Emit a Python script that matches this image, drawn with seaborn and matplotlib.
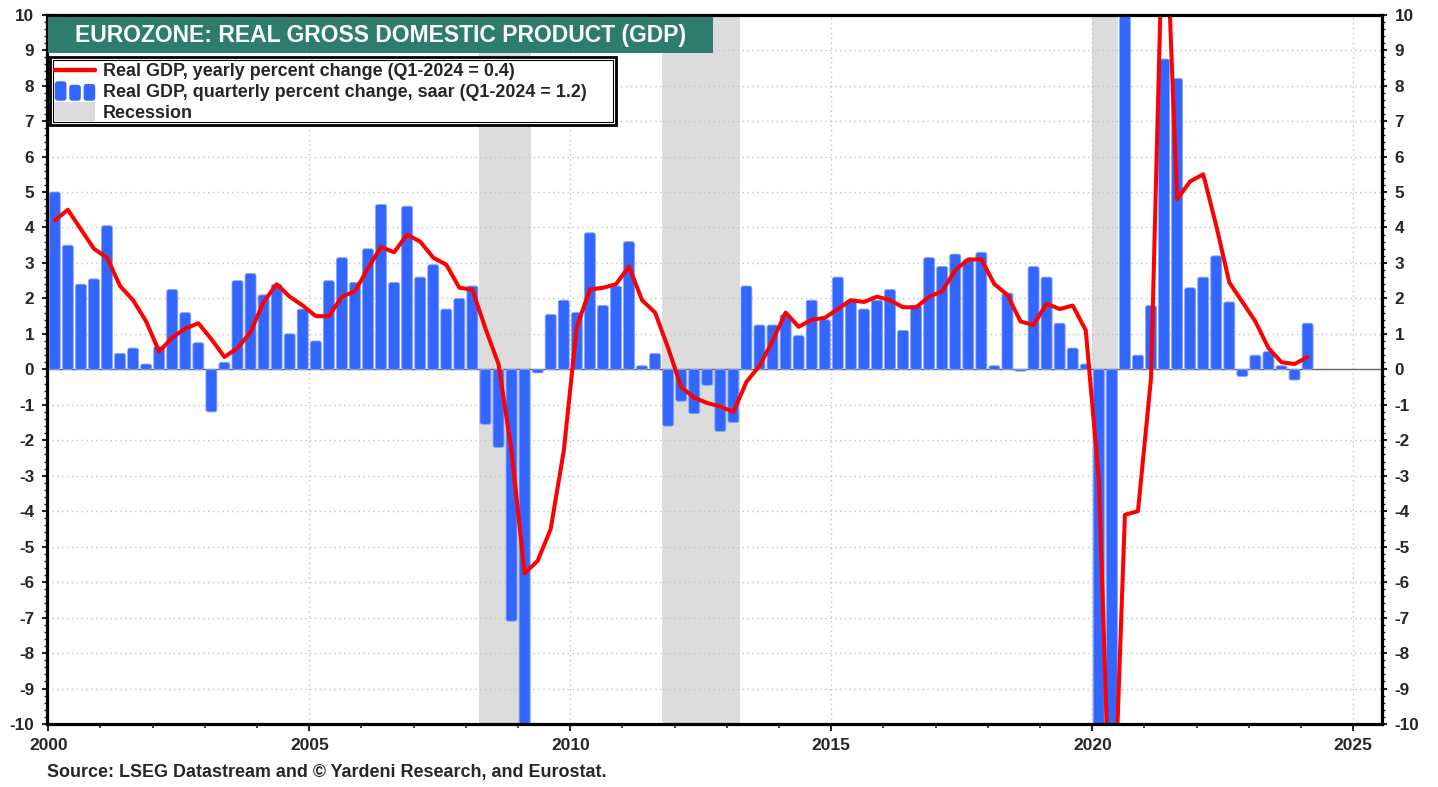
import numpy as np
import pandas as pd
import matplotlib
matplotlib.use("Agg")
import matplotlib.pyplot as plt
import seaborn as sns
from matplotlib.patches import Rectangle, Patch, FancyBboxPatch
from matplotlib.lines import Line2D
from matplotlib.legend_handler import HandlerBase
from matplotlib.ticker import MultipleLocator, AutoMinorLocator

# ---------------- data ----------------
quarters = pd.period_range("2000Q1", "2024Q1", freq="Q")

qoq_saar = [
    5.0, 3.5, 2.4, 2.55,        # 2000
    4.05, 0.45, 0.6, 0.15,      # 2001
    0.65, 2.25, 1.6, 0.75,      # 2002
    -1.2, 0.2, 2.5, 2.7,        # 2003
    2.1, 2.4, 1.0, 1.7,         # 2004
    0.8, 2.5, 3.15, 2.45,       # 2005
    3.4, 4.65, 2.45, 4.6,       # 2006
    2.6, 2.95, 1.7, 2.0,        # 2007
    2.35, -1.55, -2.2, -7.1,    # 2008
    -11.5, -0.1, 1.55, 1.95,    # 2009
    1.6, 3.85, 1.8, 2.35,       # 2010
    3.6, 0.1, 0.45, -1.6,       # 2011
    -0.9, -1.25, -0.45, -1.75,  # 2012
    -1.5, 2.35, 1.25, 1.25,     # 2013
    1.55, 0.95, 1.95, 1.4,      # 2014
    2.6, 1.95, 1.7, 1.95,       # 2015
    2.25, 1.1, 1.8, 3.15,       # 2016
    2.9, 3.25, 3.1, 3.3,        # 2017
    0.1, 2.15, -0.05, 2.9,      # 2018
    2.6, 1.3, 0.6, 0.15,        # 2019
    -14.0, -38.0, 60.0, 0.4,    # 2020
    1.8, 8.75, 8.2, 2.3,        # 2021
    2.6, 3.2, 1.9, -0.2,        # 2022
    0.4, 0.5, 0.1, -0.3,        # 2023
    1.3,                        # 2024
]

yoy = [
    4.2, 4.5, 3.95, 3.4,        # 2000
    3.15, 2.35, 1.95, 1.35,     # 2001
    0.5, 0.9, 1.15, 1.3,        # 2002
    0.85, 0.35, 0.6, 1.05,      # 2003
    1.9, 2.4, 2.05, 1.8,        # 2004
    1.5, 1.5, 2.05, 2.2,        # 2005
    2.85, 3.45, 3.3, 3.8,       # 2006
    3.6, 3.15, 2.95, 2.3,       # 2007
    2.25, 1.15, 0.15, -2.3,     # 2008
    -5.75, -5.4, -4.5, -2.3,    # 2009
    1.2, 2.25, 2.3, 2.4,        # 2010
    2.9, 1.95, 1.6, 0.6,        # 2011
    -0.5, -0.8, -0.95, -1.05,   # 2012
    -1.2, -0.35, 0.1, 0.8,      # 2013
    1.6, 1.2, 1.4, 1.45,        # 2014
    1.7, 1.95, 1.9, 2.05,       # 2015
    1.95, 1.75, 1.75, 2.05,     # 2016
    2.2, 2.8, 3.1, 3.1,         # 2017
    2.4, 2.1, 1.35, 1.25,       # 2018
    1.85, 1.7, 1.8, 1.1,        # 2019
    -3.1, -14.5, -4.1, -4.0,    # 2020
    -0.25, 14.2, 4.8, 5.3,      # 2021
    5.5, 4.05, 2.45, 1.9,       # 2022
    1.35, 0.6, 0.2, 0.15,       # 2023
    0.35,                       # 2024
]

recession_start = [2008.25, 2011.75, 2020.0]
recession_end = [2009.25, 2013.25, 2020.5]

year_ticks = [2000, 2005, 2010, 2015, 2020, 2025]
title_text = "EUROZONE: REAL GROSS DOMESTIC PRODUCT (GDP)"
legend_labels = [
    "Real GDP, yearly percent change (Q1-2024 = 0.4)",
    "Real GDP, quarterly percent change, saar (Q1-2024 = 1.2)",
    "Recession",
]
source_text = "Source: LSEG Datastream and \u00a9 Yardeni Research, and Eurostat."

# quarter mid-points as decimal years
qx = np.array([p.year + (p.quarter - 1) * 0.25 + 0.125 for p in quarters])
df = pd.DataFrame({"x": qx, "qoq": qoq_saar, "yoy": yoy})

BLUE = "#3366FF"
EDGE = "#8AA5FF"
RED = "#FF0000"
GRAY = "#DCDCDC"
TEAL = "#2E7C6D"

# ---------------- style ----------------
sns.set_style("white")
plt.rcParams["font.family"] = ["Liberation Sans", "DejaVu Sans"]
plt.rcParams["font.weight"] = "bold"

W, H, DPI = 1438, 787, 100
fig = plt.figure(figsize=(W / DPI, H / DPI), dpi=DPI)
ax = fig.add_axes([46.7 / W, 1 - 724 / H, (1382 - 46.7) / W, (724 - 14.7) / H])

# bars
sns.barplot(data=df, x="x", y="qoq", native_scale=True, width=0.84,
            color=BLUE, saturation=1, errorbar=None, ax=ax, zorder=2,
            edgecolor=EDGE, linewidth=0.6)

# round bar corners
px_x = 52.2   # px per year
px_y = 35.46  # px per unit
aspect = (1 / px_y) / (1 / px_x)
for p in list(ax.patches):
    if not isinstance(p, Rectangle):
        continue
    x0, y0, w, h = p.get_x(), p.get_y(), p.get_width(), p.get_height()
    if h < 0:
        y0, h = y0 + h, -h
    r = 2.2 / px_x
    r = min(r, w / 2, (h / 2) / aspect if h > 0 else r)
    fb = FancyBboxPatch((x0, y0), w, h,
                        boxstyle=f"round,pad=0,rounding_size={r}",
                        mutation_aspect=aspect,
                        fc=BLUE, ec=EDGE, lw=0.6, zorder=2)
    p.remove()
    ax.add_patch(fb)

# recession shading
for s, e in zip(recession_start, recession_end):
    ax.axvspan(s, e, color=GRAY, lw=0, zorder=0)

# grid
for yv in range(-10, 11):
    ax.axhline(yv, color="#C4C4C4", lw=1.0, ls=(0, (1, 2.5)), zorder=0.5)
for xv in year_ticks[1:]:
    ax.axvline(xv, color="#C4C4C4", lw=1.0, ls=(0, (1, 2.5)), zorder=0.5)
ax.axhline(0, color="#666666", lw=1.0, zorder=0.8)

# line
sns.lineplot(data=df, x="x", y="yoy", color=RED, lw=2.9, ax=ax,
             sort=False, estimator=None, zorder=3)

# axes limits/ticks
ax.set_xlim(1999.97, 2025.55)
ax.set_ylim(-10, 10)
ax.set_xlabel("")
ax.set_ylabel("")
ax.xaxis.set_minor_locator(MultipleLocator(1))
ax.set_xticks(year_ticks)
ax.set_xticklabels([str(y) for y in year_ticks])
ax.yaxis.set_minor_locator(AutoMinorLocator(5))
ax.set_yticks(range(-10, 11))
ax.set_yticklabels([str(v) for v in range(-10, 11)])
ax.grid(False)

ax.tick_params(axis="x", which="major", direction="out", length=5, width=1.5,
               pad=5, labelsize=12.5, bottom=True, top=False)
ax.tick_params(axis="x", which="minor", direction="out", length=3, width=1.2,
               bottom=True, top=False)
ax.tick_params(axis="y", which="major", direction="out", length=3.5, width=1.5,
               pad=5.5, labelsize=12.3, left=True, right=True, labelleft=True,
               labelright=True)
ax.tick_params(axis="y", which="minor", direction="out", length=2.0, width=1.0,
               left=True, right=True)
for lab in ax.get_xticklabels() + ax.get_yticklabels():
    lab.set_fontweight("bold")
for side in ["left", "right", "top", "bottom"]:
    ax.spines[side].set_visible(True)
    ax.spines[side].set_linewidth(2.3)
    ax.spines[side].set_color("black")
    ax.spines[side].set_zorder(5)

# title box
fig.patches.append(Rectangle((48 / W, 1 - 53 / H), 665 / W, 36 / H,
                             transform=fig.transFigure, fc=TEAL, ec="none",
                             zorder=10))
fig.text(381 / W, 1 - 35.5 / H, title_text, color="white", fontsize=16.5,
         fontweight="bold", ha="center", va="center", zorder=11)

# legend frame (double border)
fig.patches.append(Rectangle((49.5 / W, 1 - 125 / H), 566 / W, 68 / H,
                             transform=fig.transFigure, fc="white",
                             ec="black", lw=2.0, zorder=11))
fig.patches.append(Rectangle((52.5 / W, 1 - 122 / H), 560 / W, 62 / H,
                             transform=fig.transFigure, fc="none",
                             ec="black", lw=0.8, zorder=11))


class RectHandler(HandlerBase):
    def __init__(self, kind):
        super().__init__()
        self.kind = kind

    def create_artists(self, legend, orig_handle, xdescent, ydescent, width,
                       height, fontsize, trans):
        arts = []
        if self.kind == "bars":
            gap = width * 0.07
            bw = (width - 2 * gap) / 3
            base = -ydescent - height * 0.3
            for i, f in enumerate([1.0, 0.82, 0.86]):
                r = FancyBboxPatch((-xdescent + i * (bw + gap), base), bw,
                                   height * 1.55 * f,
                                   boxstyle="round,pad=0,rounding_size=2",
                                   fc=BLUE, ec="none", transform=trans)
                arts.append(r)
        else:
            r = Rectangle((-xdescent, -ydescent - height * 0.25), width,
                          height * 1.5, fc=GRAY, ec="none", transform=trans)
            arts.append(r)
        return arts


h_line = Line2D([], [], color=RED, lw=3.2)
h_bars = Patch(color=BLUE)
h_rec = Patch(color=GRAY)
leg = fig.legend([h_line, h_bars, h_rec], legend_labels,
                 handler_map={h_bars: RectHandler("bars"),
                              h_rec: RectHandler("rec")},
                 loc="upper left", bbox_to_anchor=(49.5 / W, 1 - 58 / H),
                 bbox_transform=fig.transFigure, borderaxespad=0,
                 prop={"weight": "bold", "size": 12.9},
                 handlelength=2.25, handletextpad=0.45, labelspacing=0.2,
                 borderpad=0.3, frameon=False)
leg.set_zorder(12)

# source
fig.text(47 / W, 1 - 773 / H, source_text, fontsize=12.9, fontweight="bold",
         ha="left", va="center")

fig.savefig("out.png", dpi=DPI)
